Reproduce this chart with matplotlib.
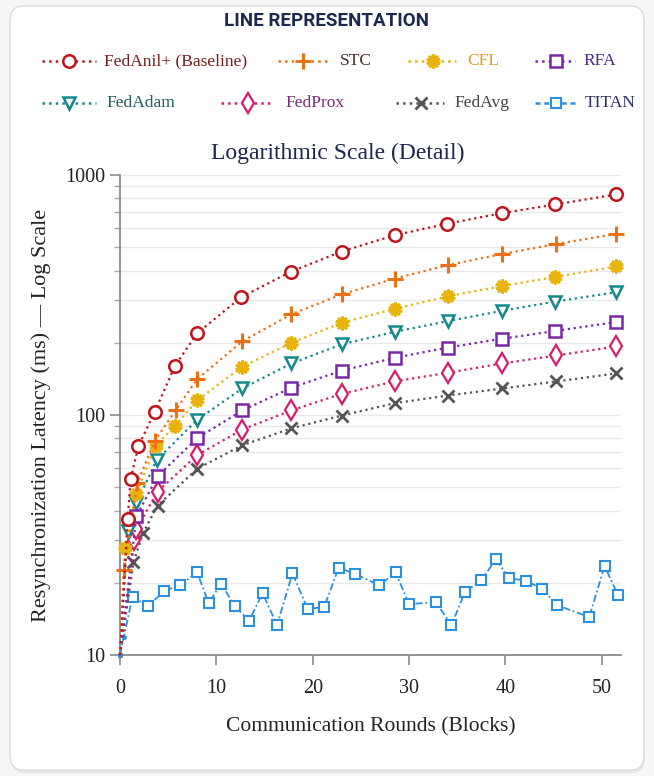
import numpy as np
import matplotlib.pyplot as plt
from matplotlib.lines import Line2D
from matplotlib.patches import FancyBboxPatch

# values (x = communication round, y = latency in ms)
fedanil_x = [0, 0.8, 1.1, 1.9, 3.6, 5.7, 8.0, 12.6, 17.7, 23.0, 28.5, 33.9, 39.6, 45.2, 51.5]
fedanil_y = [10, 37, 54, 74, 103, 160, 219, 310, 395, 480, 561, 626, 693, 754, 830]

stc_x = [0, 0.4, 1.8, 3.6, 5.8, 8.0, 12.7, 17.8, 23.0, 28.5, 34.0, 39.7, 45.3, 51.5]
stc_y = [10, 22.6, 52, 78, 105, 141, 203, 263, 318, 370, 421, 469, 516, 568]

cfl_x = [0, 0.5, 1.7, 3.7, 5.7, 8.0, 12.7, 17.8, 23.0, 28.5, 34.0, 39.7, 45.2, 51.5]
cfl_y = [10, 28, 47, 74.5, 90, 115, 159, 200, 242, 277, 312, 345, 376, 416]

rfa_x = [0, 1.7, 3.9, 8.0, 12.7, 17.8, 23.0, 28.5, 34.0, 39.7, 45.2, 51.5]
rfa_y = [10, 37.8, 55.6, 80, 104.5, 130, 153, 173, 191, 208, 224, 244]

fedadam_x = [0, 0.8, 1.7, 3.8, 8.0, 12.7, 17.8, 23.0, 28.5, 34.0, 39.7, 45.2, 51.5]
fedadam_y = [10, 33, 42.8, 64.8, 95.5, 129, 164, 197, 222, 246, 272, 297, 325]

fedprox_x = [0, 1.5, 1.7, 3.9, 8.0, 12.7, 17.8, 23.0, 28.5, 34.0, 39.7, 45.3, 51.5]
fedprox_y = [10, 30, 33.5, 48, 68, 87, 104.5, 122.5, 138, 150, 164, 177, 193]

fedavg_x = [0, 1.4, 2.4, 3.9, 8.0, 12.7, 17.8, 23.0, 28.5, 34.0, 39.7, 45.3, 51.5]
fedavg_y = [10, 24.3, 32.3, 41.9, 59.7, 74.8, 88, 99.4, 112, 120.5, 129, 138, 149]

titan_x = [0, 0.4, 1.3, 2.9, 4.6, 6.2, 8.0, 9.2, 10.5, 11.9, 13.4, 14.8, 16.3, 17.9,
           19.5, 21.2, 22.7, 24.4, 26.9, 28.6, 30.0, 32.8, 34.4, 35.8, 37.5, 39.0,
           40.4, 42.1, 43.8, 45.4, 48.7, 50.3, 51.7]
titan_y = [10, 11.9, 17.5, 16.0, 18.5, 19.5, 22.1, 16.5, 19.8, 16.0, 13.9, 18.1, 13.3, 21.9,
           15.5, 15.9, 23.1, 21.8, 19.5, 22.1, 16.3, 16.6, 13.3, 18.3, 20.5, 25.0,
           20.9, 20.4, 18.9, 16.1, 14.4, 23.5, 17.7]

labels = ['FedAnil+ (Baseline)', 'STC', 'CFL', 'RFA', 'FedAdam', 'FedProx', 'FedAvg', 'TITAN']
series = [(fedanil_x, fedanil_y), (stc_x, stc_y), (cfl_x, cfl_y), (rfa_x, rfa_y),
          (fedadam_x, fedadam_y), (fedprox_x, fedprox_y), (fedavg_x, fedavg_y), (titan_x, titan_y)]

line_colors = ['#c0141c', '#ec7014', '#e8b40c', '#7a26a8', '#13898c', '#d81b6a', '#555555', '#2d8fe0']
text_colors = ['#7a1c1c', '#4a2a20', '#d7a02a', '#4b2a86', '#1f5f5f', '#7a2a78', '#444444', '#2a3060']
markers = ['o', '+', (10, 2, 0), 's', 'v', 'd', 'x', 's']
msizes = [9, 11, 10, 8, 9, 10, 8, 7.5]
mews = [1.8, 2.2, 2.0, 1.8, 1.8, 1.6, 2.0, 1.5]
styles = [':', ':', ':', ':', ':', ':', ':', (0, (4, 1.5, 1, 1.5))]

W, H = 654, 776
fig = plt.figure(figsize=(W / 100, H / 100), dpi=100)
fig.patch.set_facecolor('#f7f7f7')

def fp(x, y):
    return x / W, 1 - y / H

# card behind everything
card = FancyBboxPatch(fp(10, 770), 634 / W, 764 / H, boxstyle='round,pad=0,rounding_size=0.02',
                      transform=fig.transFigure, facecolor='white', edgecolor='#dcdcdc', lw=1.0, zorder=-5)
shadow = FancyBboxPatch(fp(11, 773), 634 / W, 764 / H, boxstyle='round,pad=0,rounding_size=0.02',
                        transform=fig.transFigure, facecolor='#e6e6e6', edgecolor='none', zorder=-6)
fig.patches.extend([shadow, card])

serif = 'Liberation Serif'

fig.text(*fp(327, 21), 'LINE REPRESENTATION', ha='center', va='center', family='Roboto',
         weight='bold', fontsize=13.5, color='#1b2a4e')

# legend drawn by hand to follow the reference placement
leg = [(42, 96, 69, 104, 61), (278, 330, 303, 340, 61), (408, 456, 433, 467, 61), (535, 575, 556, 583, 61),
       (42, 96, 69, 106, 103), (221, 273, 248, 285, 103), (396, 444, 421, 454, 103), (535, 575, 556, 585, 103)]
for i, (x0, x1, xm, xt, yy) in enumerate(leg):
    ls = ':' if i < 7 else (0, (2, 1.5))
    fig.add_artist(Line2D([x0 / W, x1 / W], [1 - yy / H] * 2, transform=fig.transFigure,
                          color=line_colors[i], lw=1.8, ls=ls))
    fig.add_artist(Line2D([xm / W], [1 - yy / H], transform=fig.transFigure, color=line_colors[i],
                          marker=markers[i], ms=msizes[i], mew=mews[i], mfc='white', ls='none'))
    fig.text(*fp(xt, yy), labels[i], ha='left', va='center', family=serif, fontsize=12.5,
             color=text_colors[i])

fig.text(*fp(338, 153), 'Logarithmic Scale (Detail)', ha='center', va='center', family=serif,
         fontsize=17, color='#1b2650')

ax = fig.add_axes([120 / W, 1 - 655 / H, 501 / W, 480 / H])
ax.set_facecolor('white')
ax.set_yscale('log')
ax.set_ylim(10, 1000)
ax.set_xlim(0, 52)

for i, (xs, ys) in enumerate(series):
    lw = 1.6 if i < 7 else 1.3
    start = 1 if i < 7 else 2
    ax.plot(xs, ys, color=line_colors[i], ls=styles[i], lw=lw, marker=markers[i], ms=msizes[i],
            mew=mews[i], mfc='white', markevery=slice(start, None), clip_on=False,
            zorder=3 + (7 - i) * 0.1)
    # the shared origin and the tiny lead-in points carry only small dots
    ax.plot(xs[:start], ys[:start], color=line_colors[i], ls='none', marker='o', ms=2.5,
            clip_on=False, zorder=3)

ax.grid(True, which='both', axis='y', color='#e8e8e8', lw=1.0)
ax.set_axisbelow(True)
for s in ['top', 'right']:
    ax.spines[s].set_visible(False)
for s in ['left', 'bottom']:
    ax.spines[s].set_color('#8a8a8a')
    ax.spines[s].set_linewidth(1.3)

ax.set_xticks([0, 10, 20, 30, 40, 50])
ax.set_yticks([10, 100, 1000])
ax.set_yticklabels(['10', '100', '1000'])
ax.yaxis.set_minor_formatter(plt.NullFormatter())
ax.tick_params(axis='both', which='major', colors='#8a8a8a', length=7, width=1.2, labelsize=14.5,
               labelcolor='#222222')
ax.tick_params(axis='y', which='minor', colors='#aaaaaa', length=4, width=1.0)
ax.tick_params(axis='x', pad=10)
for lab in ax.get_xticklabels() + ax.get_yticklabels():
    lab.set_family(serif)

ax.set_xlabel('Communication Rounds (Blocks)', family=serif, fontsize=15.5, color='#222222', labelpad=14)
ax.set_ylabel('Resynchronization Latency (ms) — Log Scale', family=serif, fontsize=16,
              color='#222222', labelpad=10)

fig.savefig('out.png', dpi=100, facecolor=fig.get_facecolor())
